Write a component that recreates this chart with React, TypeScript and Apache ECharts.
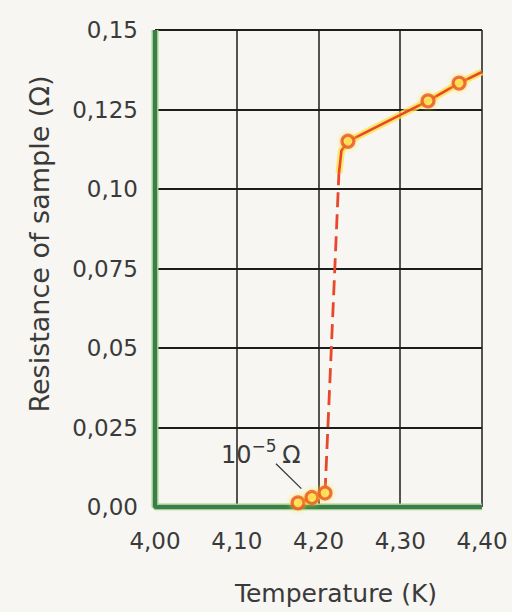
import React, { useEffect, useRef } from "react";
import * as echarts from "echarts";

const xTicks = [4.0, 4.1, 4.2, 4.3, 4.4];
const yTicks = [0, 0.025, 0.05, 0.075, 0.1, 0.125, 0.15];
const yTickLabels = ["0,00", "0,025", "0,05", "0,075", "0,10", "0,125", "0,15"];
const xTickLabels = ["4,00", "4,10", "4,20", "4,30", "4,40"];

// measured points (K, ohm)
const lowTemps = [4.175, 4.192, 4.208];
const lowRes = [0.0013, 0.003, 0.0044];
const highTemps = [4.236, 4.334, 4.372];
const highRes = [0.115, 0.1277, 0.1333];
// drawn curve
const transitionTemps = [4.208, 4.225];
const transitionRes = [0.0044, 0.105];
const upperCurveTemps = [4.225, 4.228, 4.236, 4.334, 4.372, 4.4];
const upperCurveRes = [0.105, 0.112, 0.115, 0.1277, 0.1333, 0.1368];
const leaderTemps = [4.148, 4.179];
const leaderRes = [0.0136, 0.0058];

const zip = (a: number[], b: number[]) => a.map((v, i) => [v, b[i]]);

const RED = "#e8472c";
const GLOW = "rgba(255,225,60,0.75)";
const GREEN = "#3b7d4c";
const FONT = "DejaVu Sans";
const TXT = "#3a3a3a";

export default function App() {
  const ref = useRef<HTMLDivElement>(null);
  useEffect(() => {
    const chart = echarts.init(ref.current!, undefined, { renderer: "svg" });
    const lineSeries = (data: number[][], color: string, width: number, type: any = "solid", z = 2) => ({
      type: "line",
      data,
      symbol: "none",
      smooth: false,
      lineStyle: { color, width, type },
      z,
      silent: true,
    });
    chart.setOption({
      animation: false,
      backgroundColor: "#f7f6f2",
      grid: { left: 155, right: 30, top: 30, bottom: 105, show: false },
      xAxis: {
        type: "value",
        min: 4.0,
        max: 4.4,
        interval: 0.1,
        axisLine: { show: false },
        axisTick: { show: false },
        splitLine: { show: true, lineStyle: { color: "#1d1d1d", width: 1.5 } },
        axisLabel: {
          margin: 22,
          fontFamily: FONT,
          fontSize: 23,
          color: TXT,
          formatter: (v: number) => xTickLabels[xTicks.findIndex((t) => Math.abs(t - v) < 1e-6)] ?? "",
        },
      },
      yAxis: {
        type: "value",
        min: 0,
        max: 0.15,
        interval: 0.025,
        axisLine: { show: false },
        axisTick: { show: false },
        splitLine: { show: true, lineStyle: { color: "#1d1d1d", width: 1.9 } },
        axisLabel: {
          margin: 17,
          fontFamily: FONT,
          fontSize: 23,
          color: TXT,
          formatter: (v: number) => yTickLabels[yTicks.findIndex((t) => Math.abs(t - v) < 1e-6)] ?? "",
        },
      },
      series: [
        // green axes
        {
          type: "line",
          data: [[4.0, 0.15], [4.0, 0], [4.4, 0]],
          symbol: "none",
          lineStyle: { color: "#9fd08a", width: 7 },
          z: 1,
          silent: true,
        },
        {
          type: "line",
          data: [[4.0, 0.15], [4.0, 0], [4.4, 0]],
          symbol: "none",
          lineStyle: { color: GREEN, width: 4 },
          z: 1,
          silent: true,
        },
        // glow underlays
        lineSeries(zip(lowTemps, lowRes), GLOW, 8, "solid", 2),
        lineSeries(zip(upperCurveTemps, upperCurveRes), GLOW, 7, "solid", 2),
        // red curve
        lineSeries(zip(lowTemps, lowRes), RED, 2.8, "solid", 3),
        lineSeries(zip(transitionTemps, transitionRes), RED, 2.8, [15, 7], 3),
        lineSeries(zip(upperCurveTemps, upperCurveRes), RED, 2.6, "solid", 3),
        // leader line
        lineSeries(zip(leaderTemps, leaderRes), "#333", 1.2, "solid", 3),
        // markers
        {
          type: "scatter",
          data: zip(lowTemps, lowRes).concat(zip(highTemps, highRes)),
          symbol: "circle",
          symbolSize: 12,
          itemStyle: { color: "#ffe35a", borderColor: RED, borderWidth: 3.2, shadowBlur: 5, shadowColor: "rgba(255,220,40,0.9)" },
          z: 4,
          silent: true,
        },
      ],
      graphic: [
        {
          type: "text",
          x: 39,
          y: 244,
          rotation: Math.PI / 2,
          style: {
            text: "Resistance of sample (Ω)",
            fontFamily: FONT,
            fontSize: 27,
            fill: TXT,
            align: "center",
            verticalAlign: "middle",
          },
        },
        {
          type: "text",
          x: 336,
          y: 593,
          style: {
            text: "Temperature (K)",
            fontFamily: FONT,
            fontSize: 25,
            fill: TXT,
            align: "center",
            verticalAlign: "middle",
          },
        },
        {
          type: "text",
          x: 221,
          y: 452,
          style: {
            text: "{a|10}{s|−5}{g| }{a|Ω}",
            fontFamily: FONT,
            verticalAlign: "middle",
            rich: {
              a: { fontFamily: FONT, fontSize: 24, fill: TXT, verticalAlign: "bottom", lineHeight: 30 },
              s: { fontFamily: FONT, fontSize: 17, fill: TXT, verticalAlign: "top", lineHeight: 30 },
              g: { fontFamily: FONT, fontSize: 18, fill: TXT, lineHeight: 30 },
            },
          },
        },
      ],
    });
    return () => chart.dispose();
  }, []);
  return (
    <div
      ref={ref}
      style={{ position: "fixed", left: 0, top: 0, width: 512, height: 612, background: "#f7f6f2" }}
    />
  );
}
